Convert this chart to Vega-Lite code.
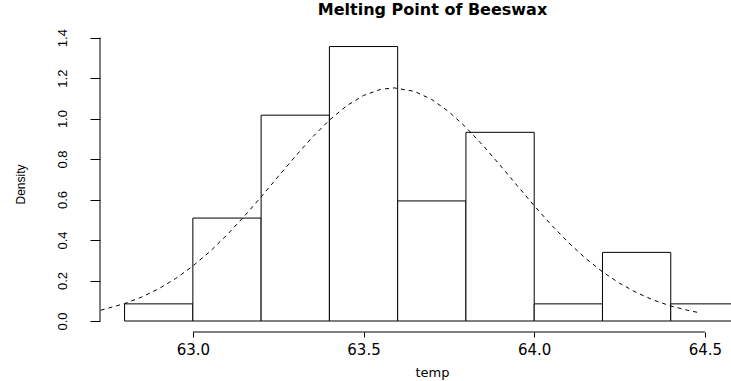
{
  "$schema": "https://vega.github.io/schema/vega-lite/v6.json",
  "width": 631,
  "height": 296,
  "autosize": {"type": "none"},
  "padding": {"left": 100, "top": 36, "right": 0, "bottom": 49},
  "background": "white",
  "config": {"view": {"stroke": null}, "font": "Liberation Sans"},
  "title": {
    "text": "Melting Point of Beeswax",
    "frame": "group",
    "anchor": "middle",
    "dx": 17,
    "offset": 3,
    "baseline": "middle",
    "fontSize": 16,
    "fontWeight": "bold",
    "font": "DejaVu Sans",
    "color": "black"
  },
  "datasets": {
    "bins": [
      {"lo": 62.8, "hi": 63.0, "density": 0.0847},
      {"lo": 63.0, "hi": 63.2, "density": 0.5085},
      {"lo": 63.2, "hi": 63.4, "density": 1.0169},
      {"lo": 63.4, "hi": 63.6, "density": 1.3559},
      {"lo": 63.6, "hi": 63.8, "density": 0.5932},
      {"lo": 63.8, "hi": 64.0, "density": 0.9322},
      {"lo": 64.0, "hi": 64.2, "density": 0.0847},
      {"lo": 64.2, "hi": 64.4, "density": 0.339},
      {"lo": 64.4, "hi": 64.6, "density": 0.0847}
    ],
    "curve": [
      {"temp": 62.73, "density": 0.0532},
      {"temp": 62.8, "density": 0.086},
      {"temp": 62.85, "density": 0.1183},
      {"temp": 62.9, "density": 0.1593},
      {"temp": 62.95, "density": 0.2101},
      {"temp": 63.0, "density": 0.2715},
      {"temp": 63.05, "density": 0.3432},
      {"temp": 63.1, "density": 0.4252},
      {"temp": 63.15, "density": 0.516},
      {"temp": 63.2, "density": 0.613},
      {"temp": 63.25, "density": 0.7135},
      {"temp": 63.3, "density": 0.8132},
      {"temp": 63.35, "density": 0.9078},
      {"temp": 63.4, "density": 0.9924},
      {"temp": 63.45, "density": 1.0627},
      {"temp": 63.5, "density": 1.1143},
      {"temp": 63.55, "density": 1.1444},
      {"temp": 63.59, "density": 1.1517},
      {"temp": 63.65, "density": 1.134},
      {"temp": 63.7, "density": 1.0941},
      {"temp": 63.75, "density": 1.0338},
      {"temp": 63.8, "density": 0.9567},
      {"temp": 63.85, "density": 0.8671},
      {"temp": 63.9, "density": 0.7697},
      {"temp": 63.95, "density": 0.6691},
      {"temp": 64.0, "density": 0.5697},
      {"temp": 64.05, "density": 0.4751},
      {"temp": 64.1, "density": 0.388},
      {"temp": 64.15, "density": 0.3104},
      {"temp": 64.2, "density": 0.2431},
      {"temp": 64.25, "density": 0.1866},
      {"temp": 64.3, "density": 0.1402},
      {"temp": 64.35, "density": 0.1031},
      {"temp": 64.4, "density": 0.0743},
      {"temp": 64.45, "density": 0.0525},
      {"temp": 64.48, "density": 0.0422}
    ]
  },
  "layer": [
    {
      "data": {"name": "bins"},
      "mark": {"type": "rect", "fill": "white", "stroke": "black", "strokeWidth": 1, "clip": true},
      "encoding": {
        "x": {
          "field": "lo", "type": "quantitative",
          "scale": {"domain": [62.728, 64.5765], "nice": false, "zero": false},
          "axis": {
            "title": "temp",
            "orient": "bottom",
            "domain": false,
            "grid": false,
            "values": [63.0, 63.5, 64.0, 64.5],
            "format": ".1f",
            "tickSize": 5,
            "tickColor": "black",
            "labelFontSize": 15,
            "labelFont": "DejaVu Sans",
            "labelColor": "black",
            "labelPadding": 5,
            "labelBaseline": "top",
            "titleFontSize": 13,
            "titleFontWeight": "normal",
            "titleFont": "DejaVu Sans",
            "titleColor": "black",
            "titleX": 332,
            "titleY": 40,
            "titleAlign": "center",
            "titleBaseline": "middle"
          }
        },
        "x2": {"field": "hi"},
        "y": {
          "field": "density", "type": "quantitative",
          "scale": {"domain": [-0.0543, 1.408], "nice": false, "zero": false},
          "axis": {
            "title": "Density",
            "orient": "left",
            "domain": false,
            "grid": false,
            "values": [0, 0.2, 0.4, 0.6, 0.8, 1.0, 1.2, 1.4],
            "format": ".1f",
            "tickSize": 10,
            "tickColor": "black",
            "labelAngle": 270,
            "labelAlign": "center",
            "labelBaseline": "bottom",
            "labelPadding": 21,
            "labelFontSize": 13,
            "labelColor": "black",
            "titleFontSize": 12,
            "titleFontWeight": "normal",
            "titleColor": "black",
            "titleAngle": 270,
            "titleX": -80,
            "titleY": 148,
            "titleAlign": "center",
            "titleBaseline": "middle"
          }
        },
        "y2": {"datum": 0}
      }
    },
    {
      "data": {"name": "curve"},
      "mark": {"type": "line", "color": "black", "strokeWidth": 1, "strokeDash": [4, 4], "clip": true},
      "encoding": {
        "x": {"field": "temp", "type": "quantitative"},
        "y": {"field": "density", "type": "quantitative"}
      }
    },
    {
      "data": {"values": [{}]},
      "mark": {"type": "rule", "color": "black", "strokeWidth": 1},
      "encoding": {
        "x": {"datum": 63.0, "type": "quantitative"},
        "x2": {"datum": 64.5},
        "y": {"datum": -0.0543, "type": "quantitative"}
      }
    },
    {
      "data": {"values": [{}]},
      "mark": {"type": "rule", "color": "black", "strokeWidth": 1},
      "encoding": {
        "x": {"datum": 62.728, "type": "quantitative"},
        "y": {"datum": 0, "type": "quantitative"},
        "y2": {"datum": 1.4}
      }
    }
  ]
}
